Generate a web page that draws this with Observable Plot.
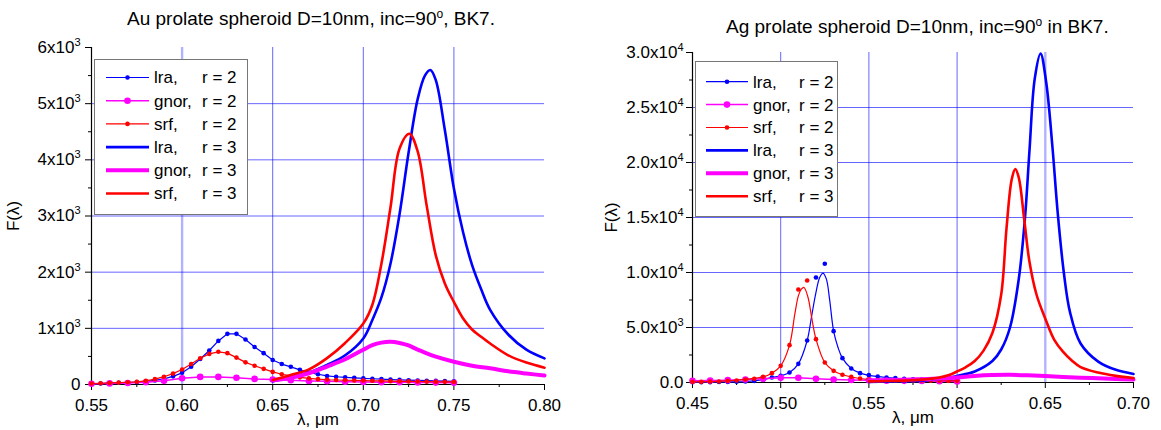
<!DOCTYPE html>
<html><head><meta charset="utf-8">
<script src="https://cdn.jsdelivr.net/npm/d3@7"></script>
<script src="https://cdn.jsdelivr.net/npm/@observablehq/plot@0.6"></script>
<style>
body{margin:0;background:#fff;}
#wrap{position:relative;width:1161px;height:430px;font-family:"Liberation Sans",Arial,sans-serif;overflow:hidden;}
.panel{position:absolute;top:0;}
.title{position:absolute;font-size:19px;line-height:19px;white-space:nowrap;color:#000;}
.title sup{font-size:12px;line-height:0;vertical-align:7px;}
.legend{position:absolute;}
</style></head><body><div id="wrap"></div><script>
// ---------- Au panel data ----------
const auTitle = ["Au prolate spheroid D=10nm, inc=90", "o", ", BK7."];
const auX = [0.55,0.555,0.56,0.565,0.57,0.575,0.58,0.585,0.59,0.595,0.60,0.605,0.61,0.615,0.62,0.625,0.63,0.635,0.64,0.645,0.65,0.655,0.66,0.665,0.67,0.675,0.68,0.685,0.69,0.695,0.70,0.705,0.71,0.715,0.72,0.725,0.73,0.735,0.74,0.745,0.75];
const auLraR2 = [12,18,24,30,36,42,50,72,100,145,208,315,455,606,776,902,902,800,667,558,436,364,315,261,212,182,152,138,128,118,110,102,95,88,82,77,72,68,64,61,58];
const auSrfR2 = [18,22,28,34,40,48,65,95,139,194,267,364,467,545,582,558,479,394,333,279,224,182,152,127,109,95,85,80,76,72,69,66,63,60,57,55,53,51,49,47,45];
const auGnorX = [0.55,0.56,0.57,0.58,0.59,0.60,0.61,0.62,0.63,0.64,0.65,0.66,0.67,0.68,0.69,0.70,0.71,0.72,0.73,0.74,0.75];
const auGnorR2 = [14,20,28,40,65,110,135,135,120,100,88,75,63,56,50,46,42,39,36,34,32];
const auLraR3X = [0.65,0.66,0.67,0.68,0.69,0.70,0.705,0.71,0.715,0.72,0.725,0.73,0.734,0.737,0.74,0.745,0.75,0.755,0.76,0.765,0.77,0.78,0.79,0.80];
const auLraR3 = [60,130,215,350,520,820,1150,1550,2150,3030,4130,5080,5500,5600,5420,4530,3490,2720,2130,1700,1330,890,620,465];
const auSrfR3X = [0.65,0.66,0.67,0.68,0.69,0.70,0.705,0.71,0.715,0.72,0.7254,0.73,0.735,0.74,0.745,0.75,0.755,0.76,0.765,0.77,0.78,0.79,0.80];
const auSrfR3 = [80,170,270,470,740,1085,1420,2150,3150,4200,4465,4150,3180,2300,1800,1470,1180,980,850,730,520,390,300];
const auGnorR3X = [0.65,0.66,0.67,0.68,0.69,0.70,0.705,0.71,0.715,0.72,0.725,0.73,0.735,0.74,0.75,0.76,0.77,0.78,0.79,0.80];
const auGnorR3 = [75,120,200,320,450,620,700,745,760,740,695,620,555,495,405,335,290,235,195,160];
const auXTicks = [0.55,0.60,0.65,0.70,0.75,0.80];
const auXTickLabels = ["0.55","0.60","0.65","0.70","0.75","0.80"];
const auXMinor = [0.575,0.625,0.675,0.725,0.775];
const auYTicks = [0,1000,2000,3000,4000,5000,6000];
const auYTickLabels = ["0","1x10^3","2x10^3","3x10^3","4x10^3","5x10^3","6x10^3"];
const auYMinor = [500,1500,2500,3500,4500,5500];
const auGridX = [0.65,0.70,0.75];
const auSoftGridX = [0.60];
const auGridY = [1000,2000,3000,4000,5000];

// ---------- Ag panel data ----------
const agTitle = ["Ag prolate spheroid D=10nm, inc=90", "o", " in BK7."];
const agX = [0.45,0.455,0.46,0.465,0.47,0.475,0.48,0.485,0.49,0.495,0.50,0.505,0.51,0.515,0.52,0.525,0.53,0.535,0.54,0.545,0.55,0.555,0.56,0.565,0.57,0.575,0.58,0.585,0.59,0.595,0.60];
const agLraR2 = [20,25,30,40,50,65,90,140,260,455,606,909,1697,3818,9545,10790,4666,2212,1273,848,667,545,455,394,333,290,260,240,225,210,200];
const agSrfR2 = [60,60,90,90,150,180,270,333,515,848,1515,3394,8454,9272,3939,1818,1060,700,515,364,275,215,195,185,175,170,165,160,155,150,150];
const agGnorX = [0.45,0.46,0.47,0.48,0.49,0.50,0.51,0.52,0.53,0.54,0.55,0.56,0.57,0.58,0.59,0.60];
const agGnorR2 = [150,180,212,270,333,424,424,333,270,230,200,170,150,130,115,100];
const agLraLineX = [0.45,0.47,0.48,0.49,0.495,0.50,0.505,0.51,0.515,0.5174,0.5198,0.5221,0.524,0.5259,0.5277,0.53,0.5325,0.535,0.54,0.545,0.55,0.56,0.58,0.60];
const agLraLine = [20,50,90,260,455,606,909,1697,3818,5909,8030,9545,9940,9393,7575,4666,3181,2212,1273,848,650,455,265,200];
const agSrfLineX = [0.45,0.47,0.49,0.495,0.50,0.505,0.508,0.51,0.5117,0.5132,0.5155,0.5174,0.52,0.525,0.53,0.535,0.54,0.55,0.56,0.58,0.60];
const agSrfLine = [60,150,515,848,1515,3394,6212,7878,8484,8636,7727,6060,3939,1818,1060,700,500,275,195,165,150];
const agLraR3X = [0.55,0.56,0.57,0.58,0.59,0.595,0.60,0.61,0.62,0.625,0.63,0.635,0.6385,0.641,0.644,0.6473,0.6505,0.654,0.657,0.6605,0.664,0.67,0.68,0.69,0.70];
const agLraR3 = [60,80,110,170,330,440,600,1000,1950,3000,5000,9450,15000,21000,27600,29900,27300,21500,15500,10000,6400,3550,1900,1150,780];
const agSrfR3X = [0.55,0.56,0.57,0.575,0.58,0.585,0.59,0.595,0.60,0.605,0.61,0.615,0.62,0.625,0.628,0.631,0.633,0.635,0.638,0.641,0.645,0.65,0.655,0.66,0.665,0.67,0.68,0.69,0.70];
const agSrfR3 = [100,130,170,210,260,340,450,650,1000,1400,1950,2900,4500,8000,14000,18500,19400,18600,14900,11000,8000,5800,3900,2800,2000,1400,900,600,400];
const agGnorR3X = [0.55,0.56,0.57,0.58,0.59,0.60,0.61,0.62,0.63,0.64,0.65,0.66,0.67,0.68,0.69,0.70];
const agGnorR3 = [200,220,250,300,370,460,600,680,700,660,590,510,440,380,320,280];
const agXTicks = [0.45,0.50,0.55,0.60,0.65,0.70];
const agXTickLabels = ["0.45","0.50","0.55","0.60","0.65","0.70"];
const agXMinor = [0.475,0.525,0.575,0.625,0.675];
const agYTicks = [0,5000,10000,15000,20000,25000,30000];
const agYTickLabels = ["0.0","5.0x10^3","1.0x10^4","1.5x10^4","2.0x10^4","2.5x10^4","3.0x10^4"];
const agYMinor = [2500,7500,12500,17500,22500,27500];
const agGridX = [0.50,0.55,0.60];
const agSoftGridX = [0.65];
const agGridY = [5000,10000,15000,20000,25000];

// ---------- legend ----------
const legendNames = ["lra,","gnor,","srf,","lra,","gnor,","srf,"];
const legendR = ["r = 2","r = 2","r = 2","r = 3","r = 3","r = 3"];
const xLabel = "\u03bb, \u03bcm";
const yLabel = "F(\u03bb)";

const BLUE = "#0000ff", MAG = "#ff00ff", RED = "#ff0000";
const styles = [
  {color: BLUE, width: 1.2, dot: 2.3},
  {color: MAG, width: 1.5, dot: 3.3},
  {color: RED, width: 1.2, dot: 2.3},
  {color: BLUE, width: 2.6, dot: 0},
  {color: MAG, width: 4, dot: 0},
  {color: RED, width: 2.6, dot: 0}
];

const zip = (xs, ys) => xs.map((x, i) => ({x, y: ys[i]}));
const key = d => (+d).toFixed(4);

function panel(cfg) {
  const xl = new Map(cfg.xTicks.map((d, i) => [key(d), cfg.xTickLabels[i]]));
  const yl = new Map(cfg.yTicks.map((d, i) => [key(d), cfg.yTickLabels[i]]));
  const gridStyle = {stroke: BLUE, strokeOpacity: 0.6, strokeWidth: 1};
  const marks = [
    Plot.gridX(cfg.softGridX, {stroke: BLUE, strokeOpacity: 0.3, strokeWidth: 2.4}),
    Plot.gridX(cfg.gridX, gridStyle),
    Plot.gridY(cfg.gridY, gridStyle),
    Plot.axisX({anchor: "bottom", ticks: cfg.xTicks, tickSize: 6, tickPadding: 8, tickFormat: d => xl.get(key(d)), label: null}),
    Plot.axisX({anchor: "bottom", ticks: cfg.xMinor, tickSize: 3, tickFormat: () => "", label: null}),
    Plot.axisY({anchor: "left", ticks: cfg.yTicks, tickSize: 6, tickPadding: cfg.yPad, tickFormat: d => yl.get(key(d)), label: null}),
    Plot.axisY({anchor: "left", ticks: cfg.yMinor, tickSize: 3, tickFormat: () => "", label: null}),
    Plot.ruleX([cfg.xDomain[0]], {y1: cfg.yDomain[0], y2: cfg.yDomain[1], stroke: "#000", strokeWidth: 1.2}),
    Plot.ruleY([0], {x1: cfg.xDomain[0], x2: cfg.xDomain[1], stroke: "#000", strokeWidth: 1.2})
  ];
  cfg.series.forEach((s, i) => {
    const st = styles[i];
    marks.push(Plot.line(s.line, {x: "x", y: "y", stroke: st.color, strokeWidth: st.width, curve: s.curve}));
    if (s.dots) marks.push(Plot.dot(s.dots, {x: "x", y: "y", r: st.dot, fill: st.color, stroke: "none"}));
  });
  marks.push(Plot.text([yLabel], {frameAnchor: "left", dx: cfg.yLabelDx, rotate: -90, text: d => d, fontSize: 17, textAnchor: "middle", lineAnchor: "middle"}));
  marks.push(Plot.text([xLabel], {frameAnchor: "bottom", dy: 35, text: d => d, fontSize: 17, textAnchor: "middle", lineAnchor: "middle"}));
  const svg = Plot.plot({
    width: cfg.width, height: 430,
    marginLeft: cfg.ml, marginRight: cfg.mr, marginTop: cfg.mt, marginBottom: cfg.mb,
    x: {domain: cfg.xDomain, axis: null},
    y: {domain: cfg.yDomain, axis: null},
    style: {fontFamily: "'Liberation Sans', Arial, sans-serif", fontSize: "17px", color: "#000", background: "transparent", overflow: "visible"},
    marks
  });
  // superscript exponents in tick labels
  d3.select(svg).selectAll("text").each(function() {
    const t = this.textContent;
    if (t.includes("^") && this.children.length === 0) {
      const [b, e] = t.split("^");
      this.textContent = b;
      d3.select(this).append("tspan").attr("dy", "-7").attr("font-size", "11px").text(e);
    }
  });
  return svg;
}

function legend(parent, box) {
  const svg = d3.select(parent).append("svg").attr("class", "legend")
    .style("left", box.left + "px").style("top", box.top + "px")
    .attr("width", box.w + 1).attr("height", box.h + 1);
  svg.append("rect").attr("x", 0.5).attr("y", 0.5).attr("width", box.w - 1).attr("height", box.h - 1)
    .attr("fill", "#fff").attr("stroke", "#777").attr("stroke-width", 1);
  legendNames.forEach((n, i) => {
    const y = box.row0 + i * box.dy;
    const st = styles[i];
    svg.append("line").attr("x1", box.lx1).attr("x2", box.lx2).attr("y1", y).attr("y2", y)
      .attr("stroke", st.color).attr("stroke-width", st.width);
    if (st.dot) svg.append("circle").attr("cx", (box.lx1 + box.lx2) / 2).attr("cy", y).attr("r", st.dot).attr("fill", st.color);
    svg.append("text").attr("x", box.tx).attr("y", y).attr("dy", "0.35em")
      .attr("font-family", "'Liberation Sans', Arial, sans-serif").attr("font-size", 17).text(n);
    svg.append("text").attr("x", box.rx).attr("y", y).attr("dy", "0.35em")
      .attr("font-family", "'Liberation Sans', Arial, sans-serif").attr("font-size", 17).text(legendR[i]);
  });
}

function title(parent, parts, left, top) {
  const div = document.createElement("div");
  div.className = "title";
  div.style.left = left + "px"; div.style.top = top + "px";
  div.append(parts[0]);
  const sup = document.createElement("sup"); sup.textContent = parts[1];
  div.append(sup); div.append(parts[2]);
  parent.appendChild(div);
}

const wrap = document.getElementById("wrap");

const au = panel({
  width: 580, ml: 91, mr: 36, mt: 47, mb: 46, yPad: 5, yLabelDx: -78,
  xDomain: [0.55, 0.80], yDomain: [0, 6000],
  xTicks: auXTicks, xTickLabels: auXTickLabels, xMinor: auXMinor,
  yTicks: auYTicks, yTickLabels: auYTickLabels, yMinor: auYMinor,
  gridX: auGridX, softGridX: auSoftGridX, gridY: auGridY,
  series: [
    {line: zip(auX, auLraR2), dots: zip(auX, auLraR2), curve: "linear"},
    {line: zip(auGnorX, auGnorR2), dots: zip(auGnorX, auGnorR2), curve: "linear"},
    {line: zip(auX, auSrfR2), dots: zip(auX, auSrfR2), curve: "linear"},
    {line: zip(auLraR3X, auLraR3), curve: "catmull-rom"},
    {line: zip(auGnorR3X, auGnorR3), curve: "catmull-rom"},
    {line: zip(auSrfR3X, auSrfR3), curve: "catmull-rom"}
  ]
});
au.classList.add("panel"); au.style.left = "0px";
wrap.appendChild(au);

const ag = panel({
  width: 581, ml: 112, mr: 28, mt: 52, mb: 48, yPad: 3, yLabelDx: -81,
  xDomain: [0.45, 0.70], yDomain: [0, 30000],
  xTicks: agXTicks, xTickLabels: agXTickLabels, xMinor: agXMinor,
  yTicks: agYTicks, yTickLabels: agYTickLabels, yMinor: agYMinor,
  gridX: agGridX, softGridX: agSoftGridX, gridY: agGridY,
  series: [
    {line: zip(agLraLineX, agLraLine), dots: zip(agX, agLraR2), curve: "catmull-rom"},
    {line: zip(agGnorX, agGnorR2), dots: zip(agGnorX, agGnorR2), curve: "linear"},
    {line: zip(agSrfLineX, agSrfLine), dots: zip(agX, agSrfR2), curve: "catmull-rom"},
    {line: zip(agLraR3X, agLraR3), curve: "catmull-rom"},
    {line: zip(agGnorR3X, agGnorR3), curve: "catmull-rom"},
    {line: zip(agSrfR3X, agSrfR3), curve: "catmull-rom"}
  ]
});
ag.classList.add("panel"); ag.style.left = "580px";
wrap.appendChild(ag);

legend(wrap, {left: 94, top: 59, w: 154, h: 156, row0: 18.5, dy: 23.2, lx1: 12, lx2: 55, tx: 60, rx: 108});
legend(wrap, {left: 695, top: 61, w: 143, h: 156, row0: 20.7, dy: 22.9, lx1: 11, lx2: 53, tx: 58, rx: 104});

title(wrap, auTitle, 127, 9);
title(wrap, agTitle, 726, 17);
</script></body></html>
